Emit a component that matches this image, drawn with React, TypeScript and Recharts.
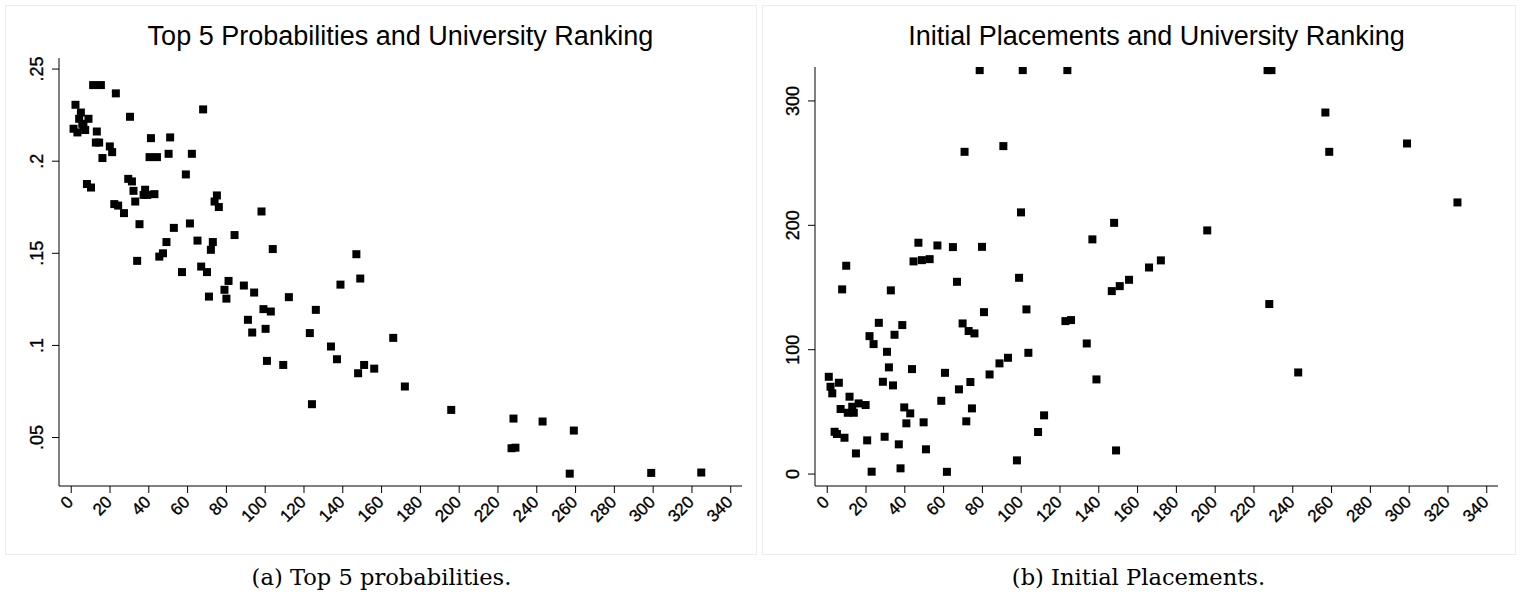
import { Scatter, ScatterChart, XAxis, YAxis } from 'recharts';

// university rank (x) vs top-5 probability (y)
const rankA = [
  2.2, 5, 4.1, 8.9, 1.2, 3.2, 6.3, 7.2, 5.7, 11.3, 15.3, 23, 13.2, 12.7, 14.4, 16.1, 19.9, 21.1, 30.3, 8.1,
  10.2, 29.4, 31.3, 32.1, 33, 22.2, 24.2, 27.2, 35.2, 34, 38.1, 37.3, 39.2, 42.9, 41.1, 40.4, 44.2, 51, 50.2, 62.2,
  59.1, 68, 52.9, 61.2, 49.1, 47.3, 45.4, 65.1, 73, 72, 75.1, 73.9, 76.1, 57.1, 67, 70, 84.2, 98.1, 103.9, 147,
  149, 138.8, 81.1, 89, 94.3, 79, 71, 80, 112.2, 99.1, 102.9, 91.1, 93.3, 100.2, 100.9, 109.3, 123, 126.1, 133.9, 137,
  124.1, 147.9, 151, 156.2, 166, 172, 195.9, 228, 243, 259.1, 227, 229, 257, 299, 324.8,
];
const probA = [
  0.2306, 0.2264, 0.223, 0.223, 0.2176, 0.2156, 0.2192, 0.2169, 0.2203, 0.2413, 0.2413, 0.2368, 0.2161, 0.2101, 0.2101, 0.2017, 0.208, 0.2049, 0.2241, 0.1876,
  0.1857, 0.1904, 0.189, 0.1839, 0.1781, 0.1767, 0.1759, 0.1718, 0.1658, 0.1459, 0.1845, 0.1817, 0.1817, 0.1821, 0.2125, 0.2022, 0.2022, 0.2129, 0.204, 0.204,
  0.1928, 0.2281, 0.1638, 0.1662, 0.1561, 0.15, 0.1482, 0.1569, 0.1561, 0.1519, 0.1814, 0.1781, 0.1751, 0.1398, 0.1428, 0.1398, 0.1599, 0.1727, 0.1523, 0.1495,
  0.1363, 0.133, 0.135, 0.1325, 0.1287, 0.1302, 0.1265, 0.1254, 0.1262, 0.1197, 0.1184, 0.1139, 0.107, 0.109, 0.0916, 0.0894, 0.1067, 0.1193, 0.0994, 0.0925,
  0.0681, 0.0849, 0.0894, 0.0874, 0.1041, 0.0777, 0.065, 0.0603, 0.0587, 0.0538, 0.0442, 0.0445, 0.0304, 0.0308, 0.031,
];

// university rank (x) vs initial placement (y)
const rankB = [
  78.6, 100.8, 123.8, 227, 229, 70.8, 90.8, 99.9, 136.7, 147.9, 47, 56.8, 64.8, 79.8, 9.8, 44.5, 48.8, 52.8,
  7.7, 32.8, 66.9, 98.9, 146.7, 150.8, 155.6, 256.8, 258.8, 298.9, 324.9, 195.9, 172, 165.9, 227.9, 242.8,
  0.8, 1.7, 2.6, 6, 6.9, 11.5, 10.6, 13.7, 12.9, 16.2, 19.8, 3.8, 5, 8.9, 14.8, 20.6, 22.9, 29.6, 36.9, 37.8,
  21.8, 23.9, 26.6, 30.8, 31.8, 28.7, 33.9, 34.7, 38.7, 39.7, 42.8, 40.8, 43.7, 49.7, 50.9, 58.8, 60.7, 61.7,
  67.9, 69.8, 72.9, 75.9, 73.8, 74.6, 71.7, 80.8, 83.7, 88.8, 93.2, 97.8, 102.7, 103.7, 108.7, 111.8, 122.8, 125.7,
  133.8, 138.8, 148.9,
];
const placeB = [
  324.8, 324.8, 324.8, 324.8, 324.8, 259.1, 263.7, 210.4, 188.7, 202, 186, 183.8, 182.5, 182.7, 167.5, 171, 172, 172.8,
  148.5, 147.7, 154.6, 157.8, 147.1, 151.1, 156.2, 290.7, 259.1, 265.8, 218.4, 195.9, 171.8, 166.1, 136.7, 81.7,
  78.2, 70.2, 64.9, 73.4, 52.3, 62.2, 49.3, 49.3, 54.1, 56.8, 55.5, 34, 32.2, 29.2, 16.6, 27.1, 1.9, 30, 23.9, 4.6,
  110.9, 104.5, 121.6, 98.3, 85.8, 74.2, 71.3, 112, 119.8, 53.6, 48.8, 40.8, 84.4, 41.6, 19.9, 58.9, 81.4, 1.8,
  68.1, 121.1, 115, 113.1, 74, 52.8, 42.4, 130.2, 80.1, 89, 93.5, 11, 132.4, 97.5, 33.8, 47.2, 123, 123.8,
  105, 76.1, 19,
];

const rankTicks = [0, 20, 40, 60, 80, 100, 120, 140, 160, 180, 200, 220, 240, 260, 280, 300, 320, 340];
const probTicks = [0.05, 0.1, 0.15, 0.2, 0.25];
const placeTicks = [0, 100, 200, 300];

const dataA = rankA.map((rank, i) => ({ rank, value: probA[i] }));
const dataB = rankB.map((rank, i) => ({ rank, value: placeB[i] }));

const sans = '"Liberation Sans", Arial, sans-serif';
const serif = '"DejaVu Serif", "Liberation Serif", serif';

function XTick(props: any) {
  const { x, y, payload } = props;
  const tx = x + 3;
  const ty = y + 8;
  return (
    <text
      x={tx}
      y={ty}
      transform={`rotate(-45 ${tx} ${ty})`}
      textAnchor="end"
      style={{ fontFamily: sans, fontSize: '17px', fill: '#000', stroke: '#000', strokeWidth: 0.35 }}
    >
      {payload.value}
    </text>
  );
}

function YTick(props: any) {
  const { x, y, payload, fmt } = props;
  const tx = x - 7;
  return (
    <text
      x={tx}
      y={y}
      transform={`rotate(-90 ${tx} ${y})`}
      textAnchor="middle"
      style={{ fontFamily: sans, fontSize: '18px', fill: '#000', stroke: '#000', strokeWidth: 0.35 }}
    >
      {fmt(payload.value)}
    </text>
  );
}

const squareShape = (props: any) => <rect x={props.cx - 4} y={props.cy - 4} width={8} height={8} fill="#000" />;

const stripZero = (v: number) => String(v).replace(/^0/, '');

interface PanelProps {
  left: number;
  title: string;
  caption: string;
  data: { rank: number; value: number }[];
  yDomain: [number, number];
  yTicks: number[];
  fmt: (v: number) => string;
  marginLeft: number;
  marginRight: number;
  marginTop: number;
}

function Panel({ left, title, caption, data, yDomain, yTicks, fmt, marginLeft, marginRight, marginTop }: PanelProps) {
  const plotLeft = marginLeft + 50;
  const plotWidth = 760 - plotLeft - marginRight;
  return (
    <div style={{ position: 'absolute', left, top: 0, width: 760, height: 596 }}>
      <div
        style={{
          position: 'absolute',
          left: left === 0 ? 5 : 2,
          top: 5,
          width: left === 0 ? 752 : 754,
          height: 550,
          border: '1px solid #e9edf0',
          boxSizing: 'border-box',
        }}
      />
      <div
        style={{
          position: 'absolute',
          left: plotLeft,
          width: plotWidth,
          top: 23,
          textAlign: 'center',
          fontFamily: sans,
          fontSize: 27,
          lineHeight: '27px',
          color: '#000',
          whiteSpace: 'nowrap',
        }}
      >
        {title}
      </div>
      <div style={{ position: 'absolute', left: 0, top: 0 }}>
        <ScatterChart
          width={760}
          height={556}
          margin={{ top: marginTop, right: marginRight, bottom: 10, left: marginLeft }}
        >
          <XAxis
            type="number"
            dataKey="rank"
            domain={[-6.3, 345.8]}
            ticks={rankTicks}
            interval={0}
            allowDataOverflow
            height={60}
            tickSize={7}
            axisLine={{ stroke: '#000' }}
            tickLine={{ stroke: '#000' }}
            tick={(p: any) => <XTick {...p} />}
          />
          <YAxis
            type="number"
            dataKey="value"
            domain={yDomain}
            ticks={yTicks}
            interval={0}
            allowDataOverflow
            width={50}
            tickSize={7}
            axisLine={{ stroke: '#000' }}
            tickLine={{ stroke: '#000' }}
            tick={(p: any) => <YTick {...p} fmt={fmt} />}
          />
          <Scatter data={data} shape={squareShape} isAnimationActive={false} />
        </ScatterChart>
      </div>
      <div
        style={{
          position: 'absolute',
          left: 0,
          width: left === 0 ? 763 : 757,
          top: 566,
          textAlign: 'center',
          fontFamily: serif,
          fontSize: 22.6,
          lineHeight: '23px',
          color: '#000',
          whiteSpace: 'nowrap',
        }}
      >
        {caption}
      </div>
    </div>
  );
}

export default function App() {
  return (
    <div style={{ position: 'absolute', left: 0, top: 0, width: 1522, height: 596, background: '#fff', overflow: 'hidden' }}>
      <Panel
        left={0}
        title="Top 5 Probabilities and University Ranking"
        caption="(a) Top 5 probabilities."
        data={dataA}
        yDomain={[0.0237, 0.256]}
        yTicks={probTicks}
        fmt={stripZero}
        marginLeft={9}
        marginRight={18}
        marginTop={58}
      />
      <Panel
        left={760}
        title="Initial Placements and University Ranking"
        caption="(b) Initial Placements."
        data={dataB}
        yDomain={[-9.6, 327.3]}
        yTicks={placeTicks}
        fmt={(v: number) => String(v)}
        marginLeft={5}
        marginRight={22}
        marginTop={67}
      />
    </div>
  );
}
